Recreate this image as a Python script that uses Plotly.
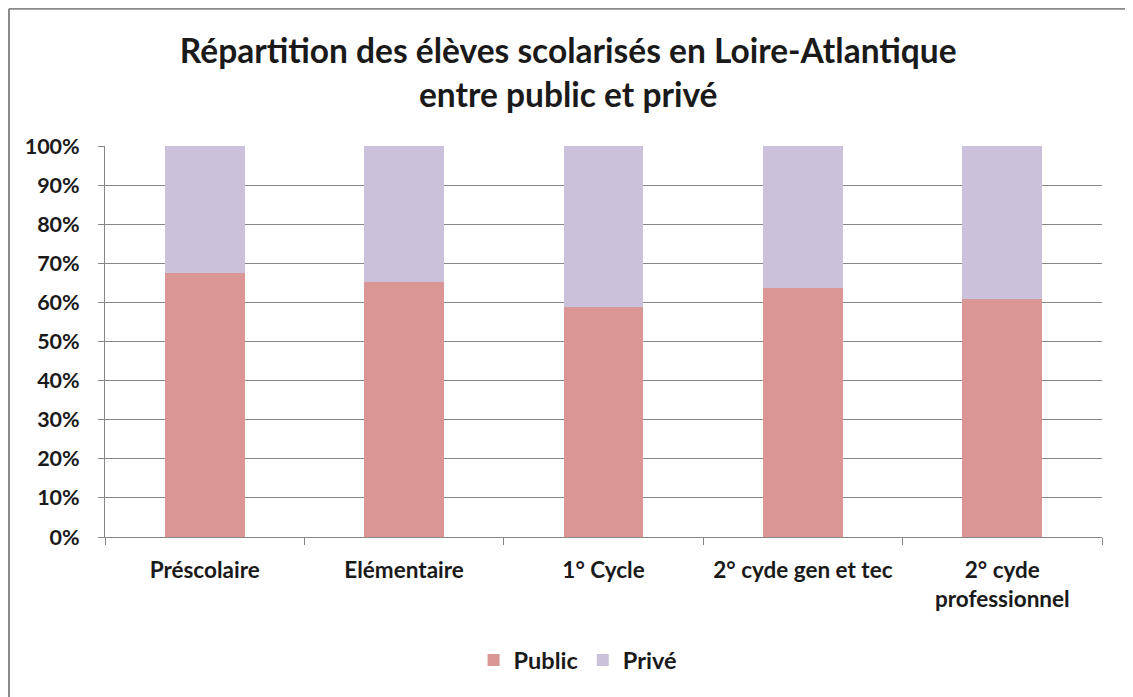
# Répartition public / privé des élèves en Loire-Atlantique

import plotly.graph_objects as go

categories = ['Préscolaire', 'Elémentaire', '1° Cycle',
              '2° cyde gen et tec', '2° cyde<br>professionnel']
public = [0.676, 0.651, 0.587, 0.637, 0.608]
prive = [0.324, 0.349, 0.413, 0.363, 0.392]

font_family = "Lato, 'Open Sans', sans-serif"

fig = go.Figure()
fig.add_trace(go.Bar(
    x=categories, y=public, name='Public',
    marker=dict(color='#D99694', line=dict(width=0)),
    width=0.4))
fig.add_trace(go.Bar(
    x=categories, y=prive, name='Privé',
    marker=dict(color='#CCC1DA', line=dict(width=0)),
    width=0.4))

fig.update_layout(
    barmode='stack',
    width=1125, height=689,
    margin=dict(l=97, r=31, t=138, b=160),
    paper_bgcolor='white', plot_bgcolor='white',
    font=dict(family=font_family, color='#1a1a1a', size=17),
    title=dict(
        text='<b>Répartition des élèves scolarisés en Loire-Atlantique<br>entre public et privé</b>',
        x=0.498, xanchor='center', y=0.92, yanchor='middle',
        font=dict(size=33.5, family=font_family, color='#1a1a1a')),
    legend=dict(orientation='h', x=0.474, xanchor='center',
                y=-0.315, yanchor='middle', traceorder='normal',
                font=dict(size=23.5, weight='bold'), itemwidth=30),
    showlegend=True,
)
fig.update_xaxes(
    showline=True, linecolor='#868686', linewidth=1,
    ticks='outside', tickson='boundaries', ticklen=7,
    tickcolor='#868686', ticklabelstandoff=13,
    tickfont=dict(size=22.5, weight='bold'), tickangle=0,
    automargin=False, showgrid=False)
fig.update_yaxes(
    range=[0, 1], dtick=0.1, tickformat='.0%',
    showline=True, linecolor='#868686', linewidth=1,
    ticks='outside', ticklen=6, tickcolor='#868686',
    ticklabelstandoff=14, automargin=False,
    showgrid=True, gridcolor='#868686', gridwidth=1,
    tickfont=dict(size=21.5, weight='bold'), zeroline=False)

# chart border (only top and left edges are visible in the crop)
fig.add_shape(type='line', xref='paper', yref='paper',
              x0=-0.0963, x1=1.04, y0=1.351, y1=1.351,
              line=dict(color='#8a8a8a', width=2), layer='below')
fig.add_shape(type='line', xref='paper', yref='paper',
              x0=-0.0963, x1=-0.0963, y0=1.351, y1=-0.42,
              line=dict(color='#8a8a8a', width=2), layer='below')

fig.write_html("out.html")
